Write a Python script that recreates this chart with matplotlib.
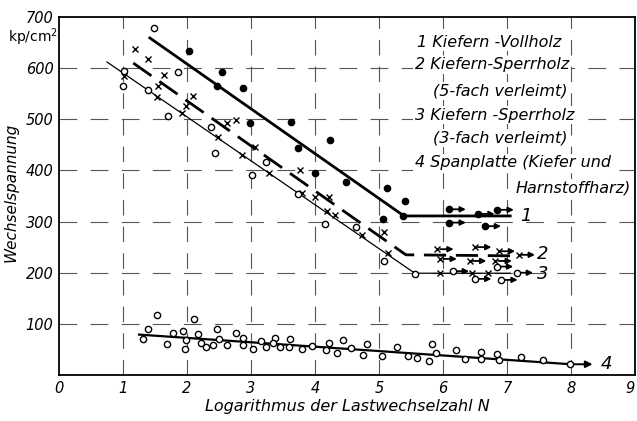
import matplotlib
matplotlib.use('Agg')
from matplotlib import pyplot as plt

plt.rcParams['font.family'] = ['DejaVu Sans']

# 1 Kiefern-Vollholz (filled dots)
s1_x = [2.03, 2.54, 2.47, 2.88, 2.99, 3.63, 3.74, 4.0, 4.24, 4.49, 5.12, 5.40, 5.06, 5.37]
s1_y = [634, 593, 565, 561, 493, 495, 444, 395, 460, 377, 366, 340, 305, 311]
s1_run_x = [6.1, 6.55, 6.85, 6.1, 6.65]
s1_run_y = [324, 315, 323, 298, 291]

# 2 Kiefern-Sperrholz 5-fach (crosses)
s2_x = [1.19, 1.39, 1.02, 1.64, 1.55, 2.09, 1.98, 1.92, 1.53, 2.62, 2.76, 2.49, 3.07, 2.86,
        3.28, 3.77, 3.79, 4.0, 4.22, 4.19, 4.32, 4.74, 5.08, 5.14, 5.96, 6.46, 6.7]
s2_y = [637, 617, 585, 587, 565, 546, 526, 512, 544, 492, 499, 466, 446, 430,
        394, 401, 356, 348, 348, 321, 313, 274, 280, 239, 200, 200, 200]
s2_run_x = [5.91, 6.5, 6.87, 7.18, 5.96, 6.42, 6.82]
s2_run_y = [246, 250, 242, 235, 227, 223, 223]

# 3 Kiefern-Sperrholz 3-fach (open circles)
s3_x = [1.49, 1.02, 1.0, 1.39, 1.86, 1.7, 2.38, 2.43, 3.02, 3.24, 3.74, 4.16, 4.64, 5.08, 5.56]
s3_y = [678, 595, 566, 558, 593, 506, 484, 435, 391, 417, 353, 295, 289, 223, 198]
s3_run_x = [6.15, 6.5, 6.91, 6.84, 7.15]
s3_run_y = [203, 188, 186, 212, 200]

# 4 Spanplatte (open circles, low)
s4_x = [1.53, 1.39, 1.31, 1.69, 1.78, 1.94, 1.98, 1.97, 2.11, 2.17, 2.22, 2.29, 2.4, 2.47,
        2.5, 2.63, 2.76, 2.87, 2.88, 3.03, 3.15, 3.23, 3.37, 3.34, 3.46, 3.61, 3.6, 3.8,
        3.96, 4.17, 4.22, 4.35, 4.44, 4.56, 4.75, 4.81, 5.05, 5.28, 5.45, 5.59, 5.78, 5.83,
        5.89, 6.2, 6.35, 6.6, 6.6, 6.84, 6.87, 7.22, 7.56, 7.99]
s4_y = [117, 90, 70, 61, 82, 86, 68, 51, 110, 80, 63, 55, 59, 90,
        70, 59, 82, 72, 59, 51, 66, 55, 72, 63, 55, 70, 55, 51,
        57, 49, 63, 43, 68, 53, 39, 61, 37, 55, 37, 33, 27, 61,
        43, 49, 31, 45, 31, 41, 29, 35, 29, 21]

# fitted lines
l1_x, l1_y = [1.42, 5.39, 7.05], [659, 311, 311]
l2_x, l2_y = [1.16, 5.42, 7.05], [610, 235, 233]
l3_x, l3_y = [0.75, 5.56, 7.05], [612, 199, 199]
l4_x, l4_y = [1.25, 8.0], [79, 21]

legend_lines = ['1 Kiefern -Vollholz', '2 Kiefern-Sperrholz', '(5-fach verleimt)',
                '3 Kiefern -Sperrholz', '(3-fach verleimt)', '4 Spanplatte (Kiefer und']

fig = plt.figure(figsize=(6.37, 4.21), dpi=100)
ax = fig.add_axes([59/637, 46/421, 576/637, 358/421])
ax.set_xlim(0, 9)
ax.set_ylim(0, 700)

# broken grid like the drawing
for gx in range(1, 9):
    ax.axvline(gx, color='#555555', lw=0.8, dashes=(14, 10), zorder=0)
for gy in range(100, 700, 100):
    ax.axhline(gy, color='#555555', lw=0.8, dashes=(16, 12), zorder=0)

# lines
ax.plot(l1_x, l1_y, color='black', lw=2.0)
ax.plot(l2_x, l2_y, color='black', lw=2.0, dashes=(8, 3.5))
ax.plot(l3_x, l3_y, color='black', lw=0.9)
ax.plot(l4_x, l4_y, color='black', lw=1.6)
ax.annotate('', xy=(8.38, 21), xytext=(8.0, 21),
            arrowprops=dict(arrowstyle='-|>', color='black', lw=1.4, mutation_scale=10))

# points
ax.plot(s1_x, s1_y, 'o', ms=4.5, color='black')
ax.plot(s2_x, s2_y, 'x', ms=5, mew=1.0, color='black')
ax.plot(s3_x, s3_y, 'o', ms=4.5, mfc='white', mec='black', mew=1.0)
ax.plot(s4_x, s4_y, 'o', ms=4.5, mfc='white', mec='black', mew=1.0)

# run-outs with arrows
def runout(xs, ys, fmt, **kw):
    for x, y in zip(xs, ys):
        ax.annotate('', xy=(x + 0.3, y), xytext=(x, y),
                    arrowprops=dict(arrowstyle='-|>', color='black', lw=1.3, mutation_scale=8))
        ax.plot(x, y, fmt, zorder=5, **kw)

runout(s1_run_x, s1_run_y, 'o', ms=4.5, color='black')
runout(s2_run_x, s2_run_y, 'x', ms=5, mew=1.0, color='black')
runout(s3_run_x, s3_run_y, 'o', ms=4.5, mfc='white', mec='black', mew=1.0)

# curve numbers
lab = dict(fontsize=13, style='italic', va='center')
ax.text(7.2, 310, '1', **lab)
ax.text(7.46, 237, '2', **lab)
ax.text(7.47, 197, '3', **lab)
ax.text(8.46, 22, '4', **lab)

# legend text
ys = [651, 607, 555, 508, 463, 415]
xs = [5.6, 5.56, 5.85, 5.56, 5.85, 5.56]
for t, x, y in zip(legend_lines, xs, ys):
    ax.text(x, y, t, fontsize=11.5, style='italic', va='center',
            bbox=dict(facecolor='white', edgecolor='none', pad=1))
ax.text(8.93, 366, 'Harnstoffharz)', fontsize=11.5, style='italic', va='center', ha='right',
        bbox=dict(facecolor='white', edgecolor='none', pad=1))

ax.set_xticks(range(0, 10))
ax.set_yticks(range(100, 800, 100))
ax.tick_params(length=0, labelsize=10.5, pad=4)
for t in ax.get_xticklabels() + ax.get_yticklabels():
    t.set_style('italic')
ax.get_xticklabels()[-1].set_ha('right')
for s in ax.spines.values():
    s.set_linewidth(1.3)

fig.text(8/637, 1 - 37/421, 'kp/cm$^2$', fontsize=10, va='center')
ax.set_ylabel('Wechselspannung', fontsize=11, style='italic')
ax.yaxis.set_label_coords(-0.071, 0.51)
ax.set_xlabel('Logarithmus der Lastwechselzahl N', fontsize=11.5, style='italic')
ax.xaxis.set_label_coords(0.5, -0.068)

plt.savefig('out.png', dpi=100)
